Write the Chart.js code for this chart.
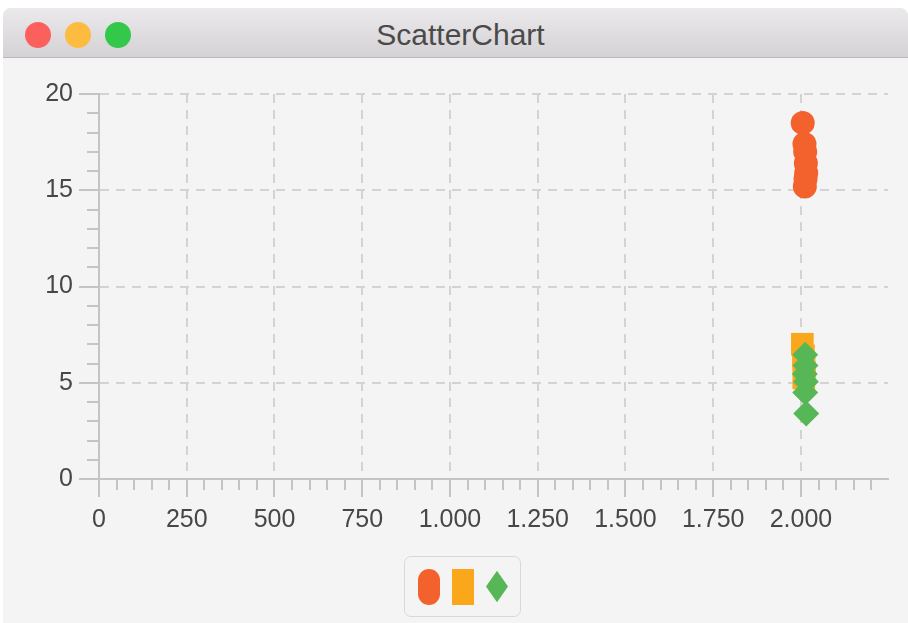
<!DOCTYPE html>
<html>
<head>
<meta charset="utf-8">
<title>ScatterChart</title>
<script src="https://cdn.jsdelivr.net/npm/chart.js@4"></script>
<style>
    html, body {
        margin: 0;
        padding: 0;
        background: #ffffff;
        width: 908px;
        height: 623px;
        overflow: hidden;
        font-family: "Liberation Sans", Arial, sans-serif;
    }
    .window {
        position: absolute;
        left: 3px;
        top: 8px;
        width: 905px;
        height: 615px;
        background: #f4f4f4;
        border-radius: 8px 8px 0 0;
        overflow: hidden;
    }
    .titlebar {
        position: absolute;
        left: 0;
        top: 0;
        width: 100%;
        height: 49px;
        background: linear-gradient(#ebe9eb, #d4d2d4);
        border-bottom: 1px solid #b9b9b9;
    }
    .titlebar .light {
        position: absolute;
        top: 14px;
        width: 26px;
        height: 26px;
        border-radius: 50%;
    }
    .titlebar .title {
        position: absolute;
        left: 10px;
        right: 0;
        top: 10px;
        text-align: center;
        font-size: 30px;
        color: #4a4a4a;
    }
    .chart-box {
        position: absolute;
        left: -3px;
        top: 50px;
        width: 908px;
        height: 565px;
    }
    .legend {
        position: absolute;
        left: 401px;
        top: 548px;
        width: 117px;
        height: 61px;
        border: 1px solid #d8d8d8;
        border-radius: 7px;
        display: flex;
        align-items: center;
        padding-left: 13px;
        box-sizing: border-box;
    }
    .legend span {
        display: inline-block;
        width: 22px;
        height: 36px;
        margin-right: 12px;
    }
</style>
</head>
<body>
<div class="window">
    <div class="titlebar">
        <div class="light" style="left: 22px; background: #fc605c;"></div>
        <div class="light" style="left: 62px; background: #fdbc40;"></div>
        <div class="light" style="left: 102px; background: #34c84a;"></div>
        <div class="title">ScatterChart</div>
    </div>
    <div class="chart-box"><canvas id="scatter"></canvas></div>
    <div class="legend" id="legend"></div>
</div>

<script>
const circleX = [2005, 2010, 2012, 2014, 2015, 2013, 2011];
const circleY = [18.5, 17.4, 17.0, 16.4, 15.9, 15.6, 15.2];

const squareX = [2004, 2007, 2009, 2010, 2008];
const squareY = [7.0, 6.4, 5.9, 5.5, 5.25];

const diamondX = [2012, 2013, 2011, 2014, 2012, 2015];
const diamondY = [6.45, 5.9, 5.45, 5.05, 4.5, 3.4];

const xTickValues = [0, 250, 500, 750, 1000, 1250, 1500, 1750, 2000];
const yTickValues = [0, 5, 10, 15, 20];

const seriesColors = ['#f3622d', '#fba71b', '#57b757'];

function toPoints (xs, ys) {
    return xs.map((x, i) => ({ x: x, y: ys[i] }));
}

function formatThousands (value) {
    return String(Math.round(value)).replace(/\B(?=(\d{3})+(?!\d))/g, '.');
}

// small tick marks between the labelled ones
const minorTicks = {
    id: 'minorTicks',
    afterDraw (chart) {
        const ctx = chart.ctx;
        const x = chart.scales.x;
        const y = chart.scales.y;
        ctx.save();
        ctx.strokeStyle = '#c4c4c4';
        ctx.lineWidth = 2;
        ctx.beginPath();
        for (let v = 50; v < x.max; v += 50) {
            if (v % 250 === 0) continue;
            const px = Math.round(x.getPixelForValue(v));
            ctx.moveTo(px, x.top);
            ctx.lineTo(px, x.top + 11);
        }
        for (let v = 1; v < y.max; v += 1) {
            if (v % 5 === 0) continue;
            const py = Math.round(y.getPixelForValue(v));
            ctx.moveTo(y.right, py);
            ctx.lineTo(y.right - 12, py);
        }
        ctx.stroke();
        ctx.restore();
    }
};

const labelFont = { family: '"Liberation Sans", Arial, sans-serif', size: 25 };

const ctx = document.getElementById('scatter').getContext('2d');

const scatterChart = new Chart(ctx, {
    type: 'scatter',
    data: {
        datasets: [{
            label: '',
            data: toPoints(circleX, circleY),
            pointStyle: 'circle',
            pointRadius: 12,
            backgroundColor: seriesColors[0],
            borderWidth: 0,
            order: 2
        }, {
            label: '',
            data: toPoints(squareX, squareY),
            pointStyle: 'rect',
            pointRadius: 16,
            backgroundColor: seriesColors[1],
            borderWidth: 0,
            order: 1
        }, {
            label: '',
            data: toPoints(diamondX, diamondY),
            pointStyle: 'rectRot',
            pointRadius: 13,
            backgroundColor: seriesColors[2],
            borderWidth: 0,
            order: 0
        }]
    },
    options: {
        responsive: true,
        maintainAspectRatio: false,
        animation: false,
        layout: {
            padding: { top: 36, right: 20, bottom: 84, left: 0 }
        },
        plugins: {
            legend: { display: false },
            tooltip: { enabled: false }
        },
        scales: {
            x: {
                type: 'linear',
                min: 0,
                max: 2248,
                afterBuildTicks: scale => {
                    scale.ticks = xTickValues.map(v => ({ value: v }));
                },
                afterFit: scale => { scale.height = 60; },
                ticks: {
                    maxRotation: 0,
                    autoSkip: false,
                    padding: 8,
                    color: '#474747',
                    font: labelFont,
                    callback: value => formatThousands(value)
                },
                grid: {
                    color: '#d3d3d3',
                    lineWidth: 2,
                    tickLength: 18,
                    tickColor: '#c4c4c4',
                    tickWidth: 2
                },
                border: {
                    color: '#c4c4c4',
                    width: 2,
                    dash: [9, 7]
                }
            },
            y: {
                min: 0,
                max: 20,
                afterBuildTicks: scale => {
                    scale.ticks = yTickValues.map(v => ({ value: v }));
                },
                afterFit: scale => { scale.width = 99; },
                ticks: {
                    padding: 6,
                    color: '#474747',
                    font: labelFont
                },
                grid: {
                    color: '#d3d3d3',
                    lineWidth: 2,
                    tickLength: 20,
                    tickColor: '#c4c4c4',
                    tickWidth: 2
                },
                border: {
                    color: '#c4c4c4',
                    width: 2,
                    dash: [9, 7]
                }
            }
        }
    },
    plugins: [minorTicks]
});

// legend symbols built from the datasets
const legendEl = document.getElementById('legend');
scatterChart.data.datasets.forEach(ds => {
    const sym = document.createElement('span');
    sym.style.background = ds.backgroundColor;
    if (ds.pointStyle === 'circle') {
        sym.style.borderRadius = '11px';
    } else if (ds.pointStyle === 'rectRot') {
        sym.style.clipPath = 'polygon(50% 6%, 100% 50%, 50% 94%, 0 50%)';
    }
    legendEl.appendChild(sym);
});
</script>
</body>
</html>
